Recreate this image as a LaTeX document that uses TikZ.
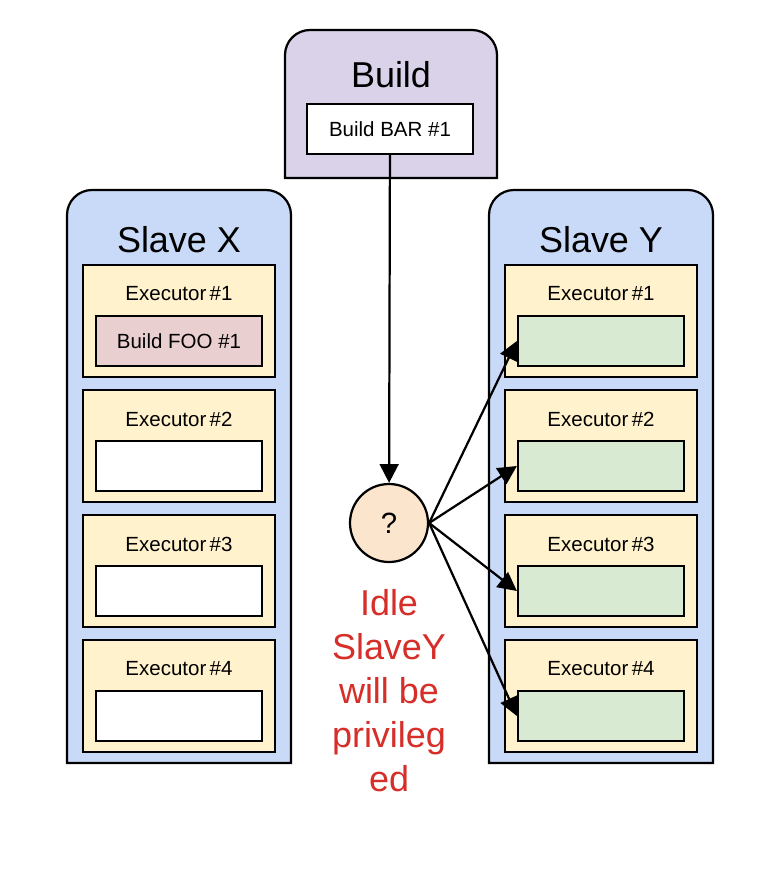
\documentclass[tikz,border=0pt]{standalone}
\usepackage{fontspec}
\setmainfont{Liberation Sans}
\usetikzlibrary{arrows.meta}

\definecolor{buildfill}{RGB}{217,210,233}
\definecolor{slavefill}{RGB}{201,218,248}
\definecolor{execfill}{RGB}{255,242,204}
\definecolor{busyfill}{RGB}{234,207,208}
\definecolor{freefill}{RGB}{217,234,211}
\definecolor{choicefill}{RGB}{252,229,205}
\definecolor{notered}{RGB}{214,46,40}

\begin{document}
\begin{tikzpicture}[x=0.03cm, y=-0.03cm, line width=1.9pt,
    exec/.style={draw, fill=execfill, minimum width=5.76cm, minimum height=3.36cm, inner sep=0pt},
    slot/.style={draw, minimum width=4.98cm, minimum height=1.5cm, inner sep=0pt},
    title/.style={font=\fontsize{30.7}{36}\selectfont},
    small/.style={font=\fontsize{17.5}{21}\selectfont},
    arr/.style={-{Triangle[length=16pt, width=16pt]}}]
    \useasboundingbox (0,0) rectangle (778,880);

    % containers, rounded at the top only
    \draw[fill=buildfill] (285,178) [rounded corners=0.75cm] -- (285,30) -- (497,30) [sharp corners] -- (497,178) -- cycle;
    \draw[fill=slavefill] (67,763) [rounded corners=0.75cm] -- (67,190) -- (291,190) [sharp corners] -- (291,763) -- cycle;
    \draw[fill=slavefill] (489,763) [rounded corners=0.75cm] -- (489,190) -- (713,190) [sharp corners] -- (713,763) -- cycle;

    \node[title] (buildtitle) at (391,75) {Build};
    \node[title] (slavextitle) at (179,240) {Slave X};
    \node[title] (slaveytitle) at (601,240) {Slave Y};
    \node[slot, fill=white, small] (bar) at (390,129) {Build BAR \#1};

    % executors
    \foreach \i/\y in {1/321, 2/446, 3/571, 4/696} {
        \node[exec] (execx\i) at (179,\y) {};
        \node[exec] (execy\i) at (601,\y) {};
        \node[small] (labelx\i) at (179,\y-27) {Executor\,\#\i};
        \node[small] (labely\i) at (601,\y-27) {Executor\,\#\i};
        \node[slot, fill=freefill] (sloty\i) at (601,\y+20) {};
    }
    \node[slot, fill=busyfill, small] (slotx1) at (179,341) {Build FOO \#1};
    \foreach \i/\y in {2/466, 3/591, 4/716}
        \node[slot, fill=white] (slotx\i) at (179,\y) {};

    % choice of slave
    \node[draw, circle, fill=choicefill, minimum size=2.34cm, inner sep=0pt,
        font=\fontsize{25}{30}\selectfont] (choice) at (389,523) {?};
    \draw[arr] (bar) -- (choice);
    \draw[arr] (choice.east) -- (sloty1.west);
    \draw[arr] (choice.east) -- (sloty2.west);
    \draw[arr] (choice.east) -- (sloty3.west);
    \draw[arr] (choice.east) -- (sloty4.west);

    \node[text=notered, align=center, font=\fontsize{30.7}{37.6}\selectfont] (note) at (389,691)
        {Idle\\SlaveY\\will be\\privileg\\ed};
\end{tikzpicture}
\end{document}
